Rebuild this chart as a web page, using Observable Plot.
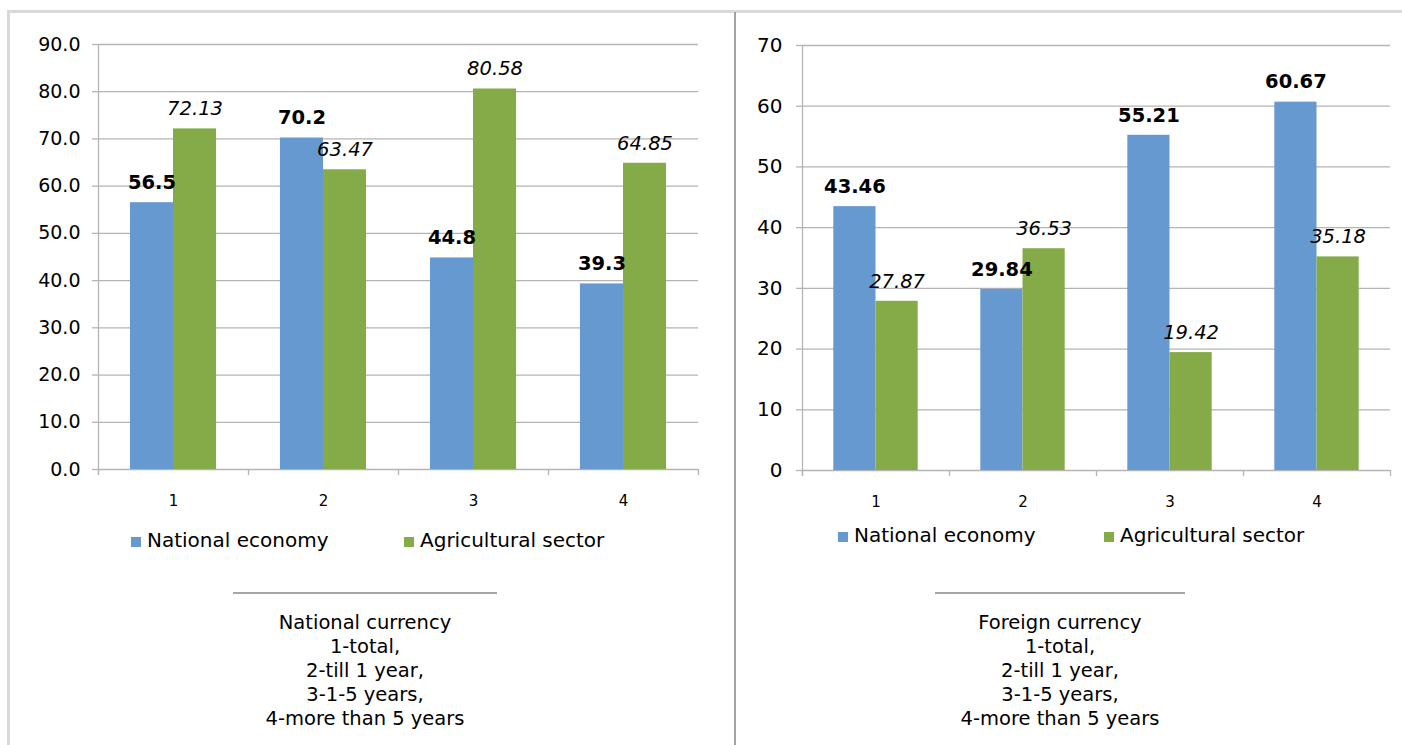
<!DOCTYPE html>
<html>
<head>
<meta charset="utf-8">
<script src="https://cdn.jsdelivr.net/npm/d3@7"></script>
<script src="https://cdn.jsdelivr.net/npm/@observablehq/plot@0.6"></script>
<style>
  html, body { margin: 0; padding: 0; background: #fff; }
  body { width: 1402px; height: 745px; position: relative; overflow: hidden; font-family: "DejaVu Sans", Verdana, sans-serif; color: #000; }
  .frame { position: absolute; left: 7px; top: 10px; width: 1420px; height: 760px; border-left: 3px solid #d9d9d9; border-top: 3px solid #d9d9d9; }
  .divider { position: absolute; left: 734px; top: 12px; width: 2px; height: 740px; background: #a3a3a3; }
  .panel { position: absolute; top: 0; }
  .leg { position: absolute; font-size: 20px; line-height: 24px; white-space: nowrap; }
  .sw { position: absolute; width: 10px; height: 10px; }
  .sep { position: absolute; top: 592px; height: 2px; background: #a6a6a6; }
  .cap { position: absolute; top: 611px; width: 400px; text-align: center; font-size: 19.5px; line-height: 24px; }
</style>
</head>
<body>
<div class="frame"></div>
<div class="divider"></div>
<div id="left" class="panel" style="left:0px"></div>
<div id="right" class="panel" style="left:735px"></div>
<script>
// ---- data ----
const categories = [1, 2, 3, 4];
const seriesNames = ["National economy", "Agricultural sector"];
const nationalEconomyNC = [56.5, 70.2, 44.8, 39.3];
const agriculturalNC = [72.13, 63.47, 80.58, 64.85];
const nationalEconomyFC = [43.46, 29.84, 55.21, 60.67];
const agriculturalFC = [27.87, 36.53, 19.42, 35.18];
const yTicksNC = [0, 10, 20, 30, 40, 50, 60, 70, 80, 90];
const yTicksFC = [0, 10, 20, 30, 40, 50, 60, 70];
const captionNC = ["National currency", "1-total,", "2-till 1 year,", "3-1-5 years,", "4-more than 5 years"];
const captionFC = ["Foreign currency", "1-total,", "2-till 1 year,", "3-1-5 years,", "4-more than 5 years"];

const BLUE = "#6699d0";
const GREEN = "#85ab48";
const GRID = "#b4b4b4";
const HALF = 0.287; // bar width as fraction of a category step

function makeChart(o) {
  const rows = categories.map((c, i) => ({c, nat: o.nat[i], agr: o.agr[i]}));
  const bounds = [categories[0] - 0.5, ...categories.map(c => c + 0.5)];
  return Plot.plot({
    width: o.width, height: 520,
    marginLeft: o.ml, marginRight: o.mr, marginTop: o.mt, marginBottom: o.mb,
    style: {fontFamily: "DejaVu Sans", fontSize: "19px", color: "#000", background: "transparent"},
    x: {domain: [bounds[0], bounds[bounds.length - 1]], axis: null},
    y: {domain: [o.yTicks[0], o.yTicks[o.yTicks.length - 1]], axis: null},
    marks: [
      Plot.gridY(o.yTicks, {stroke: GRID, strokeOpacity: 1, strokeWidth: 1.3}),
      Plot.axisY(o.yTicks, {tickSize: 6, tickPadding: o.ytp, tickFormat: o.yFmt, fontSize: o.yfs, stroke: GRID, strokeWidth: 1.3}),
      Plot.ruleX([bounds[0]], {stroke: GRID, strokeWidth: 1.3, insetBottom: -6}),
      Plot.axisX(bounds, {tickSize: 6, tickFormat: () => "", stroke: GRID, strokeWidth: 1.3}),
      Plot.axisX(categories, {tickSize: 0, tickPadding: o.xtp, fontSize: 15, tickFormat: d => String(d)}),
      Plot.rectY(rows, {x1: d => d.c - HALF, x2: d => d.c, y1: 0, y2: "nat", fill: BLUE}),
      Plot.rectY(rows, {x1: d => d.c, x2: d => d.c + HALF, y1: 0, y2: "agr", fill: GREEN}),
      Plot.text(rows, {x: d => d.c - HALF / 2, y: "nat", text: d => String(d.nat), dy: -20, fontWeight: "bold", fontSize: 19.5, fill: "#000"}),
      Plot.text(rows, {x: d => d.c + HALF / 2, y: "agr", text: d => String(d.agr), dy: -20, fontStyle: "italic", fontSize: 19.5, fill: "#000"})
    ]
  });
}

function addExtras(el, o) {
  const colors = [BLUE, GREEN];
  seriesNames.forEach((name, i) => {
    const sw = document.createElement("div");
    sw.className = "sw";
    sw.style.left = o.legX[i] + "px";
    sw.style.top = (o.legTop + 9) + "px";
    sw.style.background = colors[i];
    el.appendChild(sw);
    const t = document.createElement("div");
    t.className = "leg";
    t.style.left = (o.legX[i] + o.textGap) + "px";
    t.style.top = o.legTop + "px";
    t.textContent = name;
    el.appendChild(t);
  });
  const sep = document.createElement("div");
  sep.className = "sep";
  sep.style.left = o.sepL + "px";
  sep.style.width = o.sepW + "px";
  el.appendChild(sep);
  const cap = document.createElement("div");
  cap.className = "cap";
  cap.style.left = (o.capC - 200) + "px";
  cap.innerHTML = o.caption.map(s => "<div>" + s + "</div>").join("");
  el.appendChild(cap);
}

const left = document.getElementById("left");
left.appendChild(makeChart({
  nat: nationalEconomyNC, agr: agriculturalNC, yTicks: yTicksNC, yFmt: d => d.toFixed(1),
  width: 735, ml: 98, mr: 37, mt: 44, mb: 51, ytp: 12, yfs: 19, xtp: 26
}));
addExtras(left, {legX: [131, 404], textGap: 16, legTop: 528, sepL: 233, sepW: 264, capC: 365, caption: captionNC});

const right = document.getElementById("right");
right.appendChild(makeChart({
  nat: nationalEconomyFC, agr: agriculturalFC, yTicks: yTicksFC, yFmt: d => String(d),
  width: 667, ml: 67, mr: 12, mt: 45, mb: 50, ytp: 14, yfs: 20, xtp: 26
}));
addExtras(right, {legX: [838 - 735, 1104 - 735], textGap: 16, legTop: 523, sepL: 935 - 735, sepW: 250, capC: 1060 - 735, caption: captionFC});
</script>
</body>
</html>
